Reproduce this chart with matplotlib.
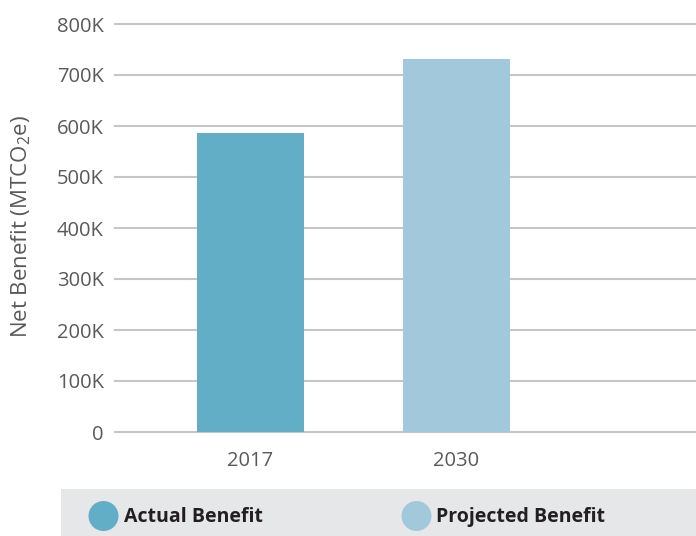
import matplotlib
matplotlib.use("Agg")
import matplotlib.pyplot as plt
from matplotlib.patches import Rectangle, Ellipse

plt.rcParams['font.family'] = ['Open Sans', 'DejaVu Sans']
plt.rcParams['mathtext.fontset'] = 'custom'
plt.rcParams['mathtext.rm'] = 'Open Sans'
plt.rcParams['mathtext.it'] = 'Open Sans'

categories = ['2017', '2030']
values = [586000, 732000]
series_names = ['Actual Benefit', 'Projected Benefit']
colors = ['#63aec7', '#a1c9db']
yticks = [0, 100000, 200000, 300000, 400000, 500000, 600000, 700000, 800000]
ytick_labels = ['0', '100K', '200K', '300K', '400K', '500K', '600K', '700K', '800K']

W, H = 696, 536
fig = plt.figure(figsize=(W / 100, H / 100), dpi=100)

# plot area in pixels
left, right, top, bottom = 115, 696, 24, 432
ax = fig.add_axes([left / W, (H - bottom) / H, (right - left) / W, (bottom - top) / H])

x = list(range(len(categories)))
ax.bar(x, values, width=0.52, color=colors, zorder=3)
ax.set_xlim(-0.658, 2.163)
ax.set_ylim(0, 800000)
ax.set_yticks(yticks)
ax.set_yticklabels(ytick_labels)
ax.set_xticks(x)
ax.set_xticklabels(categories)
ax.tick_params(axis='both', length=0, labelsize=14.5, colors='#58595b')
ax.tick_params(axis='y', pad=8)
ax.tick_params(axis='x', pad=14)
for s in ax.spines.values():
    s.set_visible(False)
ax.grid(axis='y', color='#c6c6c6', linewidth=1.5, zorder=0)
ax.grid(axis='x', visible=False)
for gl in ax.get_ygridlines():
    gl.set_clip_on(False)

# overlay in pixel coordinates
ov = fig.add_axes([0, 0, 1, 1], zorder=5)
ov.set_xlim(0, W)
ov.set_ylim(H, 0)
ov.axis('off')

ov.text(21, 227, 'Net Benefit (MTCO$_2$e)', fontsize=16, color='#58595b',
        rotation=90, ha='center', va='center')

# legend band
ov.add_patch(Rectangle((61, 489), W - 61, H - 489, color='#e6e7e8', lw=0))
leg_x = [103.5, 416.5]
for cx, name, c in zip(leg_x, series_names, colors):
    ov.add_patch(Ellipse((cx, 516), 30, 30, color=c, lw=0))
    ov.text(cx + 20, 517, name, fontsize=14, fontweight='bold', color='#231f20',
            va='center', ha='left')

fig.savefig('out.png', dpi=100)
